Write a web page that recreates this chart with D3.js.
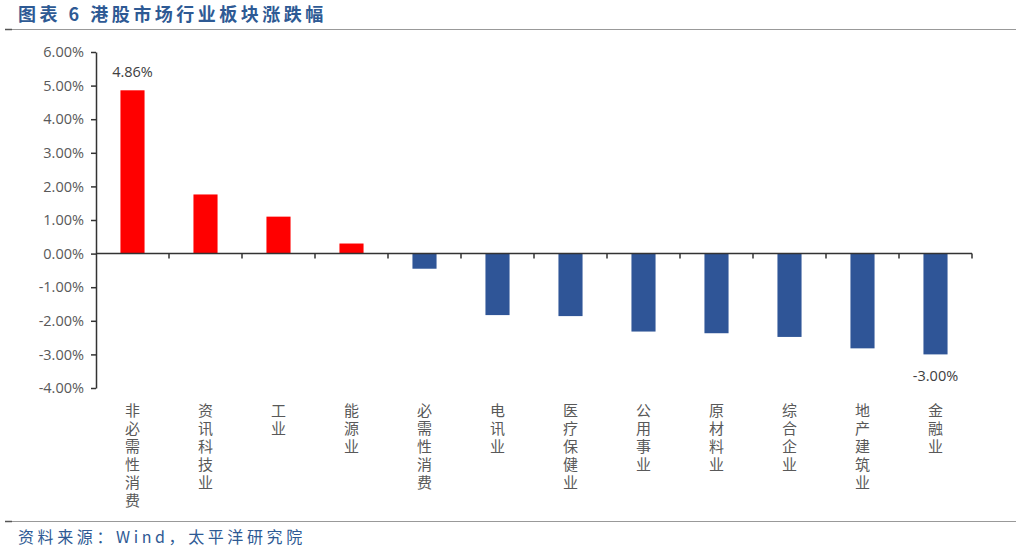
<!DOCTYPE html>
<html>
<head>
<meta charset="utf-8">
<script src="https://cdn.jsdelivr.net/npm/d3@7"></script>
<style>
  body { margin: 0; background: #fff; }
  svg { display: block; font-family: "Noto Sans CJK SC", "Open Sans", sans-serif; }
</style>
</head>
<body>
<script>
// sector names and returns (%)
var sectors = ["非必需性消费", "资讯科技业", "工业", "能源业", "必需性消费", "电讯业",
               "医疗保健业", "公用事业", "原材料业", "综合企业", "地产建筑业", "金融业"];
var changes = [4.86, 1.76, 1.10, 0.30, -0.45, -1.83, -1.86, -2.32, -2.37, -2.48, -2.82, -3.00];
var yTicks = [6, 5, 4, 3, 2, 1, 0, -1, -2, -3, -4];
var labelled = [0, 11];   // bars that carry a value label

var W = 1021, H = 552;
var svg = d3.select("body").append("svg")
    .attr("width", W)
    .attr("height", H);

// title and rules
svg.append("text")
    .attr("x", 18).attr("y", 21)
    .style("font-size", "18px")
    .style("font-weight", "bold")
    .style("fill", "#2E5A94")
    .style("letter-spacing", "3.5px")
    .text("图表 6 港股市场行业板块涨跌幅");
svg.append("line").attr("x1", 5).attr("x2", 1016).attr("y1", 29.5).attr("y2", 29.5)
    .style("stroke", "#999").style("stroke-width", 1);
svg.append("line").attr("x1", 5).attr("x2", 12).attr("y1", 29.5).attr("y2", 29.5)
    .style("stroke", "#555").style("stroke-width", 1.5);
svg.append("line").attr("x1", 5).attr("x2", 1016).attr("y1", 521.5).attr("y2", 521.5)
    .style("stroke", "#999").style("stroke-width", 1);
svg.append("line").attr("x1", 5).attr("x2", 12).attr("y1", 521.5).attr("y2", 521.5)
    .style("stroke", "#555").style("stroke-width", 1.5);
svg.append("text")
    .attr("x", 18).attr("y", 543)
    .style("font-size", "16px")
    .style("fill", "#2E5A94")
    .style("letter-spacing", "3.6px")
    .text("资料来源：Wind，太平洋研究院");

var plotL = 96, plotR = 972, plotT = 52, plotB = 388;

var x = d3.scaleBand()
    .domain(sectors)
    .range([plotL, plotR])
    .paddingInner(0.67)
    .paddingOuter(0.335);

var y = d3.scaleLinear()
    .domain([-4, 6])
    .range([plotB, plotT]);

// y axis
var yAxis = svg.append("g")
    .attr("transform", "translate(" + plotL + ",0)")
    .call(d3.axisLeft(y).tickValues(yTicks).tickSize(5).tickSizeOuter(0)
        .tickFormat(function(d){ return d.toFixed(2) + "%"; }));
yAxis.select(".domain").style("stroke", "#333").style("stroke-width", 1.5);
yAxis.selectAll(".tick line").style("stroke", "#333").style("stroke-width", 1.5);
yAxis.selectAll("text")
    .attr("x", -12)
    .style("font-family", "'Open Sans', sans-serif")
    .style("font-size", "14.5px")
    .style("fill", "#595959");

// bars
svg.append("g")
    .selectAll("rect")
    .data(changes)
    .enter()
    .append("rect")
    .attr("x", function(d, i){ return x(sectors[i]); })
    .attr("width", x.bandwidth())
    .attr("y", function(d){ return y(Math.max(0, d)); })
    .attr("height", function(d){ return Math.abs(y(d) - y(0)); })
    .style("fill", function(d){ return d >= 0 ? "#FF0000" : "#2F5597"; });

// x axis at zero, ticks between categories
var step = x.step();
var xAxis = svg.append("g");
xAxis.append("line")
    .attr("x1", plotL).attr("x2", plotR)
    .attr("y1", y(0)).attr("y2", y(0))
    .style("stroke", "#333").style("stroke-width", 1.5);
xAxis.selectAll(".xt")
    .data(d3.range(1, sectors.length + 1))
    .enter()
    .append("line")
    .attr("x1", function(k){ return plotL + k * step; })
    .attr("x2", function(k){ return plotL + k * step; })
    .attr("y1", y(0)).attr("y2", y(0) + 5)
    .style("stroke", "#333").style("stroke-width", 1.5);

// category labels, one character per line
var cats = svg.append("g");
sectors.forEach(function(s, i){
    var cx = x(s) + x.bandwidth() / 2;
    s.split("").forEach(function(ch, j){
        cats.append("text")
            .attr("x", cx)
            .attr("y", 416 + j * 18)
            .attr("text-anchor", "middle")
            .style("font-size", "15px")
            .style("fill", "#595959")
            .text(ch);
    });
});

// value labels
svg.append("g")
    .selectAll("text")
    .data(labelled)
    .enter()
    .append("text")
    .attr("x", function(i){ return x(sectors[i]) + x.bandwidth() / 2; })
    .attr("y", function(i){ return changes[i] >= 0 ? y(changes[i]) - 13 : y(changes[i]) + 27; })
    .attr("text-anchor", "middle")
    .style("font-family", "'Open Sans', sans-serif")
    .style("font-size", "14.5px")
    .style("fill", "#404040")
    .text(function(i){ return changes[i].toFixed(2) + "%"; });
</script>
</body>
</html>
